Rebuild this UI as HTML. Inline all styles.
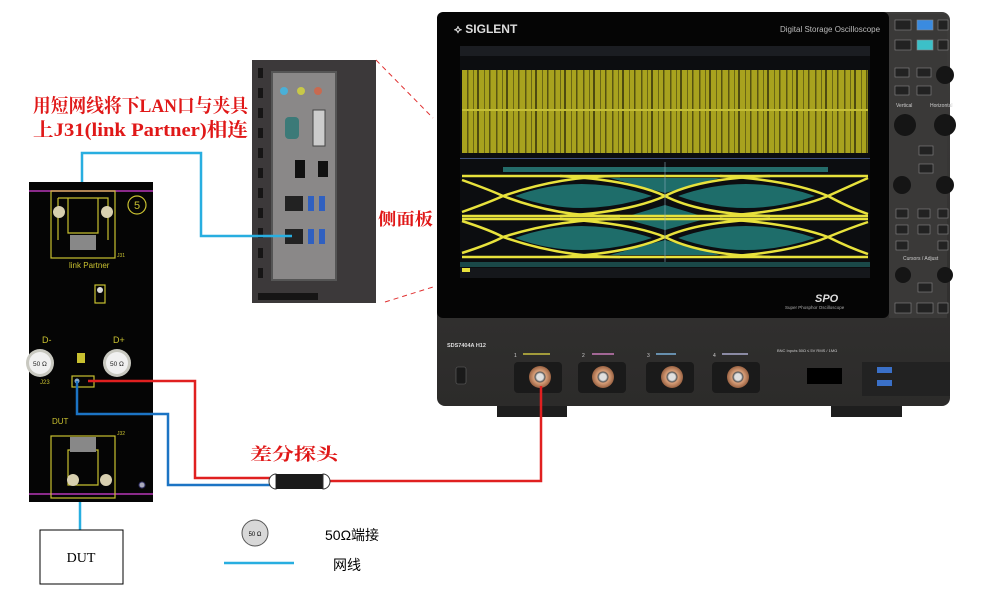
<!DOCTYPE html>
<html><head><meta charset="utf-8"><style>
html,body{margin:0;padding:0;background:#fff;width:982px;height:597px;overflow:hidden}
svg{display:block}
</style></head><body>
<svg width="982" height="597" viewBox="0 0 982 597" xmlns="http://www.w3.org/2000/svg" font-family="Liberation Sans, Noto Sans CJK SC, sans-serif">
<defs>
<pattern id="wf" width="29" height="10" patternUnits="userSpaceOnUse">
<rect width="29" height="10" fill="#a8a21e"/>
<rect x="3" width="1.5" height="10" fill="#5a5612"/>
<rect x="9" width="1" height="10" fill="#6a6614"/>
<rect x="13" width="2" height="10" fill="#4e4a10"/>
<rect x="20" width="1" height="10" fill="#6a6614"/>
<rect x="25" width="1.5" height="10" fill="#555110"/>
</pattern>
<linearGradient id="bodyg" x1="0" y1="0" x2="0" y2="1"><stop offset="0" stop-color="#3e3d3c"/><stop offset="1" stop-color="#2c2b2a"/></linearGradient>
<radialGradient id="bnc"><stop offset="0.3" stop-color="#e0e0e0"/><stop offset="0.45" stop-color="#555"/><stop offset="0.55" stop-color="#d9a07a"/><stop offset="1" stop-color="#9a6242"/></radialGradient>
</defs>

<!-- Oscilloscope -->
<rect x="437" y="12" width="513" height="394" rx="8" fill="url(#bodyg)"/>
<rect x="437" y="12" width="452" height="306" rx="6" fill="#050505"/>
<rect x="889" y="14" width="58" height="304" fill="#3a3938"/>
<text x="454" y="33" fill="#ddd" font-size="12" font-weight="bold">⟡ SIGLENT</text>
<text x="780" y="32" fill="#bbb" font-size="8">Digital Storage Oscilloscope</text>
<rect x="460" y="46" width="410" height="232" fill="#0c0d10"/>
<rect x="460" y="46" width="410" height="10" fill="#1b1d22"/>
<rect x="462" y="70" width="406" height="83" fill="url(#wf)"/>
<rect x="462" y="109" width="406" height="2" fill="#c4be36"/>
<rect x="503" y="167" width="325" height="5" fill="#246c6a"/>
<rect x="460" y="158" width="410" height="1" fill="#40507a"/>
<!-- eye -->
<g>
<path d="M515 196 Q580 172 652 196 Q580 220 515 196Z" fill="#1e6d6a"/>
<path d="M515 238 Q580 214 652 238 Q580 262 515 238Z" fill="#1e6d6a"/>
<path d="M678 196 Q745 172 815 196 Q745 220 678 196Z" fill="#1e6d6a"/>
<path d="M678 238 Q745 214 815 238 Q745 262 678 238Z" fill="#1e6d6a"/>
<path d="M610 178 L720 178 L665 193Z M610 255 L720 255 L665 240Z M625 217 L705 217 L665 205Z M625 219 L705 219 L665 230Z" fill="#1e6d6a"/>
<g stroke="#e8e23c" stroke-width="2.5" fill="none">
<line x1="462" y1="176" x2="868" y2="176"/>
<line x1="462" y1="216" x2="868" y2="216"/>
<line x1="462" y1="219" x2="868" y2="219"/>
<line x1="462" y1="257" x2="868" y2="257"/>
<path d="M462 180 Q490 190 503 196 Q560 218 620 216 M462 212 Q490 202 503 196 Q560 176 620 176"/>
<path d="M560 176 Q630 180 665 196 Q700 214 770 216 M560 216 Q630 212 665 196 Q700 178 770 176"/>
<path d="M720 176 Q790 180 828 196 Q850 208 868 214 M720 216 Q790 212 828 196 Q850 186 868 178"/>
<path d="M462 221 Q490 230 503 237 Q560 257 620 257 M462 253 Q490 244 503 237 Q560 219 620 219"/>
<path d="M560 219 Q630 223 665 237 Q700 255 770 257 M560 257 Q630 253 665 237 Q700 221 770 219"/>
<path d="M720 219 Q790 223 828 237 Q850 248 868 254 M720 257 Q790 253 828 237 Q850 228 868 222"/>
</g>
<line x1="665" y1="162" x2="665" y2="262" stroke="#8ab" stroke-width="0.6"/>
</g>
<rect x="460" y="262" width="410" height="5" fill="#1a4848"/>
<rect x="460" y="268" width="410" height="10" fill="#15171b"/>
<rect x="462" y="268" width="8" height="4" fill="#e8e23c"/>
<text x="815" y="302" fill="#ddd" font-size="11" font-style="italic" font-weight="bold">SPO</text>
<text x="785" y="309" fill="#aaa" font-size="4.5">Super Phosphor Oscilloscope</text>
<!-- right panel buttons -->
<g fill="#222" stroke="#888" stroke-width="0.6">
<rect x="895" y="20" width="16" height="10"/><rect x="917" y="20" width="16" height="10" fill="#3a8be0"/><rect x="938" y="20" width="10" height="10"/>
<rect x="895" y="40" width="16" height="10"/><rect x="917" y="40" width="16" height="10" fill="#3cc0c8"/><rect x="938" y="40" width="10" height="10"/>
<rect x="895" y="68" width="14" height="9"/><rect x="917" y="68" width="14" height="9"/>
<rect x="895" y="86" width="14" height="9"/><rect x="917" y="86" width="14" height="9"/>
<rect x="919" y="146" width="14" height="9"/><rect x="919" y="164" width="14" height="9"/>
<rect x="896" y="209" width="12" height="9"/><rect x="918" y="209" width="12" height="9"/><rect x="938" y="209" width="10" height="9"/>
<rect x="896" y="225" width="12" height="9"/><rect x="918" y="225" width="12" height="9"/><rect x="938" y="225" width="10" height="9"/>
<rect x="896" y="241" width="12" height="9"/><rect x="938" y="241" width="10" height="9"/>
<rect x="918" y="283" width="14" height="9"/>
<rect x="895" y="303" width="16" height="10"/><rect x="917" y="303" width="16" height="10"/><rect x="938" y="303" width="10" height="10"/>
</g>
<g fill="#151515"><circle cx="945" cy="75" r="9"/><circle cx="905" cy="125" r="11"/><circle cx="945" cy="125" r="11"/><circle cx="902" cy="185" r="9"/><circle cx="945" cy="185" r="9"/><circle cx="903" cy="275" r="8"/><circle cx="945" cy="275" r="8"/></g>
<text x="896" y="107" fill="#ccc" font-size="5">Vertical</text><text x="930" y="107" fill="#ccc" font-size="5">Horizontal</text>
<text x="903" y="260" fill="#ccc" font-size="5">Cursors / Adjust</text>
<!-- lower panel -->
<text x="447" y="347" fill="#ddd" font-size="5.5" font-weight="bold">SDS7404A H12</text>
<rect x="456" y="367" width="10" height="17" rx="2" fill="#1a1a1a" stroke="#666" stroke-width="0.6"/>
<g fill="#1a1a1a"><rect x="514" y="362" width="48" height="31" rx="4"/><rect x="578" y="362" width="48" height="31" rx="4"/><rect x="646" y="362" width="48" height="31" rx="4"/><rect x="712" y="362" width="48" height="31" rx="4"/></g>
<g><circle cx="540" cy="377" r="11" fill="url(#bnc)"/><circle cx="603" cy="377" r="11" fill="url(#bnc)"/><circle cx="672" cy="377" r="11" fill="url(#bnc)"/><circle cx="738" cy="377" r="11" fill="url(#bnc)"/></g>
<g stroke-width="1.5"><line x1="523" y1="354" x2="550" y2="354" stroke="#c8c040"/><line x1="592" y1="354" x2="614" y2="354" stroke="#c87ab8"/><line x1="656" y1="354" x2="676" y2="354" stroke="#7ab0d8"/><line x1="722" y1="354" x2="748" y2="354" stroke="#aac"/></g>
<text x="514" y="357" fill="#ccc" font-size="5">1</text><text x="582" y="357" fill="#ccc" font-size="5">2</text><text x="647" y="357" fill="#ccc" font-size="5">3</text><text x="713" y="357" fill="#ccc" font-size="5">4</text>
<text x="777" y="352" fill="#ccc" font-size="4">BNC Inputs  50Ω ≤ 5V RMS / 1MΩ</text>
<rect x="807" y="368" width="35" height="16" fill="#000"/>
<rect x="862" y="362" width="88" height="34" fill="#222"/>
<rect x="877" y="367" width="15" height="6" fill="#3a70c8"/><rect x="877" y="380" width="15" height="6" fill="#3a70c8"/>
<rect x="497" y="406" width="70" height="11" fill="#1e1e1e"/><rect x="831" y="406" width="71" height="11" fill="#1e1e1e"/>

<!-- side panel photo -->
<rect x="252" y="60" width="124" height="243" fill="#3c393a"/>
<g fill="#161515"><rect x="258" y="68" width="5" height="10"/><rect x="258" y="88" width="5" height="10"/><rect x="258" y="108" width="5" height="10"/><rect x="258" y="128" width="5" height="10"/><rect x="258" y="148" width="5" height="10"/><rect x="258" y="168" width="5" height="10"/><rect x="258" y="188" width="5" height="10"/><rect x="258" y="208" width="5" height="10"/><rect x="258" y="228" width="5" height="10"/><rect x="258" y="248" width="5" height="10"/><rect x="258" y="268" width="5" height="10"/><rect x="258" y="293" width="60" height="7"/></g>
<rect x="272" y="72" width="64" height="208" fill="#8a8888" stroke="#555" stroke-width="2"/>
<circle cx="284" cy="91" r="4" fill="#4ab0d8"/><circle cx="301" cy="91" r="4" fill="#c8c848"/><circle cx="318" cy="91" r="4" fill="#c86a50"/>
<rect x="285" y="117" width="14" height="22" rx="4" fill="#3c7a78"/>
<rect x="313" y="110" width="12" height="36" fill="#ccc" stroke="#444"/>
<rect x="295" y="160" width="10" height="18" fill="#111"/><rect x="318" y="161" width="10" height="16" fill="#111"/>
<rect x="285" y="196" width="18" height="15" fill="#222"/><rect x="285" y="229" width="18" height="15" fill="#222"/>
<rect x="308" y="196" width="6" height="15" fill="#3060c0"/><rect x="319" y="196" width="6" height="15" fill="#3060c0"/>
<rect x="308" y="229" width="6" height="15" fill="#3060c0"/><rect x="319" y="229" width="6" height="15" fill="#3060c0"/>
<line x1="376" y1="60" x2="433" y2="118" stroke="#e03030" stroke-dasharray="5,4"/>
<line x1="385" y1="302" x2="433" y2="287" stroke="#e03030" stroke-dasharray="5,4"/>

<!-- PCB -->
<rect x="29" y="182" width="124" height="320" fill="#050505"/>
<line x1="29" y1="191" x2="153" y2="191" stroke="#8a2a8a" stroke-width="2"/>
<line x1="29" y1="494" x2="153" y2="494" stroke="#8a2a8a" stroke-width="2"/>
<g stroke="#c8c030" fill="none" stroke-width="1.2">
<rect x="51" y="191" width="64" height="67"/><path d="M58 198 H108 V240 M58 198 V240 M68 198 V233 H98 V198"/>
<rect x="51" y="436" width="64" height="62"/><path d="M68 450 H98 V485 H68 Z"/>
<circle cx="137" cy="205" r="9"/>
<rect x="72" y="376" width="22" height="11"/>
<rect x="95" y="285" width="10" height="18"/>
</g>
<rect x="70" y="235" width="26" height="15" fill="#888"/><rect x="70" y="437" width="26" height="15" fill="#888"/>
<g fill="#d8d0b0"><circle cx="59" cy="212" r="6"/><circle cx="107" cy="212" r="6"/><circle cx="73" cy="480" r="6"/><circle cx="106" cy="480" r="6"/></g>
<circle cx="100" cy="290" r="3" fill="#ddd"/>
<text x="134" y="209" fill="#c8c030" font-size="11">5</text>
<text x="69" y="268" fill="#c8c030" font-size="8">link Partner</text>
<text x="117" y="257" fill="#c8c030" font-size="5">J31</text>
<text x="42" y="343" fill="#c8c030" font-size="9">D-</text><text x="113" y="343" fill="#c8c030" font-size="9">D+</text>
<rect x="77" y="353" width="8" height="10" fill="#c8c030"/>
<circle cx="40" cy="363" r="14" fill="#c8c8c0"/><circle cx="117" cy="363" r="14" fill="#c8c8c0"/>
<circle cx="40" cy="363" r="11" fill="#f0f0f0"/><circle cx="117" cy="363" r="11" fill="#f0f0f0"/>
<text x="33" y="366" font-size="6.5" fill="#222">50 Ω</text><text x="110" y="366" font-size="6.5" fill="#222">50 Ω</text>
<text x="40" y="384" fill="#c8c030" font-size="6">J23</text>
<text x="52" y="424" fill="#c8c030" font-size="8">DUT</text><text x="117" y="435" fill="#c8c030" font-size="5">J32</text>
<circle cx="142" cy="485" r="3" fill="#aab" stroke="#336"/>
<circle cx="77" cy="381" r="2.5" fill="#8ac"/>

<!-- cables -->
<polyline points="82,182 82,153 201,153 201,236 292,236" fill="none" stroke="#28aee0" stroke-width="2.5"/>
<line x1="80" y1="502" x2="80" y2="530" stroke="#28aee0" stroke-width="2.5"/>
<polyline points="88,381 195,381 195,478 272,478" fill="none" stroke="#e02020" stroke-width="2.5"/>
<polyline points="330,481 541,481 541,386" fill="none" stroke="#e02020" stroke-width="2.5"/>
<polyline points="77,381 77,414 168,414 168,485 272,485" fill="none" stroke="#1c74c4" stroke-width="2.5"/>
<path d="M276 474 A7 7.5 0 0 0 276 489Z" fill="#fff" stroke="#333"/>
<rect x="276" y="474" width="47" height="15" fill="#1a1a1a"/>
<path d="M323 474 A7 7.5 0 0 1 323 489Z" fill="#fff" stroke="#333"/>

<!-- DUT box & legend -->
<rect x="40" y="530" width="83" height="54" fill="#fff" stroke="#000" stroke-width="1"/>
<text x="81" y="562" font-family="Liberation Serif, serif" font-size="14" text-anchor="middle">DUT</text>
<circle cx="255" cy="533" r="13" fill="#d8d8d8" stroke="#555"/>
<text x="255" y="536" font-size="6" text-anchor="middle">50 Ω</text>
<text x="325" y="540" font-size="14" font-family="Liberation Sans, Noto Sans CJK SC, sans-serif">50Ω端接</text>
<line x1="224" y1="563" x2="294" y2="563" stroke="#28aee0" stroke-width="2.5"/>
<text x="333" y="570" font-size="14" font-family="Noto Sans CJK SC, sans-serif">网线</text>

<!-- red labels -->
<g fill="#e01818" font-weight="bold" font-family="Liberation Serif, Noto Serif CJK SC, serif">
<text x="33" y="112" font-size="19" textLength="215" lengthAdjust="spacingAndGlyphs">用短网线将下LAN口与夹具</text>
<text x="33" y="136" font-size="19" textLength="215" lengthAdjust="spacingAndGlyphs">上J31(link Partner)相连</text>
<text x="378" y="225" font-size="17" textLength="55" lengthAdjust="spacingAndGlyphs">侧面板</text>
<text x="250" y="460" font-size="17" textLength="88" lengthAdjust="spacingAndGlyphs">差分探头</text>
</g>
</svg>
</body></html>
